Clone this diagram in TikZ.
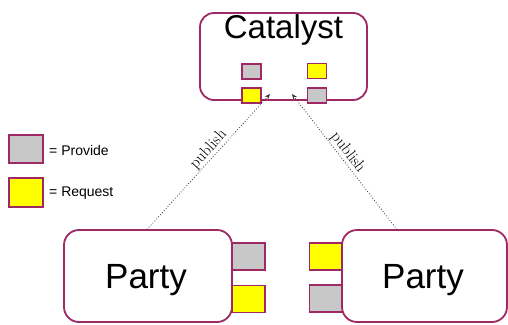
\documentclass[tikz,border=0pt]{standalone}
\usepackage{fontspec}
\setmainfont{Liberation Sans}
\newfontfamily\lmserif{Latin Modern Roman}
\usetikzlibrary{arrows.meta}
\definecolor{rim}{RGB}{160,40,100}
\definecolor{pgray}{RGB}{200,200,200}
\definecolor{ryellow}{RGB}{255,255,0}
\tikzset{
  bigbox/.style={draw=rim, line width=1.8pt, fill=white, rounded corners=14pt, inner sep=0pt},
  sq/.style={draw=rim, line width=1.3pt, inner sep=0pt, minimum width=#1},
  provide/.style={sq=19pt, fill=pgray, minimum height=15pt},
  request/.style={sq=19pt, fill=ryellow, minimum height=15pt},
  bigprovide/.style={sq=33pt, fill=pgray, minimum height=27pt},
  bigrequest/.style={sq=33pt, fill=ryellow, minimum height=27pt},
  pub/.style={draw=black!80, dotted, line width=0.8pt, -{Stealth[length=5.5pt,width=4.5pt]}},
  publabel/.style={font=\lmserif\fontsize{16}{16}\selectfont, sloped, above, inner sep=0.8pt},
  legtext/.style={font=\fontsize{14}{14}\selectfont, anchor=west, inner sep=0pt},
}
\begin{document}
\begin{tikzpicture}[x=1pt, y=-1pt]
\useasboundingbox (0,0) rectangle (508,324);
% catalyst
\node[bigbox, minimum width=167pt, minimum height=87pt] (cat) at (283.5,56.5) {};
\node[font=\fontsize{33}{33}\selectfont, inner sep=0pt] (catlbl) at (283.5,30) {Catalyst};
\node[provide] (cp1) at (251.5,71.5) {};
\node[request] (cr1) at (317,71) {};
\node[request] (cr2) at (251.5,95.5) {};
\node[provide] (cp2) at (317,95.5) {};
% legend
\node[bigprovide, minimum width=34pt, minimum height=28pt] (lp) at (26,149) {};
\node[bigrequest, minimum width=34pt, minimum height=29pt] (lr) at (26,192.5) {};
\node[legtext] (lpt) at (49,150) {= Provide};
\node[legtext] (lrt) at (49,193.5) {= Request};
% left party
\node[bigprovide] (lpp) at (248.5,256.5) {};
\node[bigrequest] (lpr) at (248.5,299) {};
\node[bigbox, rounded corners=15pt, minimum width=168pt, minimum height=92pt] (lparty) at (148,276) {};
\node[font=\fontsize{35}{35}\selectfont, inner sep=0pt] (lpartylbl) at (146,280) {Party};
% right party
\node[bigrequest] (rpr) at (326,256.5) {};
\node[bigprovide] (rpp) at (326,298.5) {};
\node[bigbox, rounded corners=15pt, minimum width=165pt, minimum height=92pt] (rparty) at (424.5,276) {};
\node[font=\fontsize{35}{35}\selectfont, inner sep=0pt] (rpartylbl) at (423,280) {Party};
% connectors
\coordinate (ltip) at (270,94);
\coordinate (rtip) at (292,94);
\coordinate (lstart) at (147,229.5);
\coordinate (rstart) at (397,229.5);
\draw[pub] (lstart) -- node[publabel, pos=0.55] {publish} (ltip);
\draw[pub] (rstart) -- node[publabel, pos=0.53] {publish} (rtip);
\end{tikzpicture}
\end{document}
